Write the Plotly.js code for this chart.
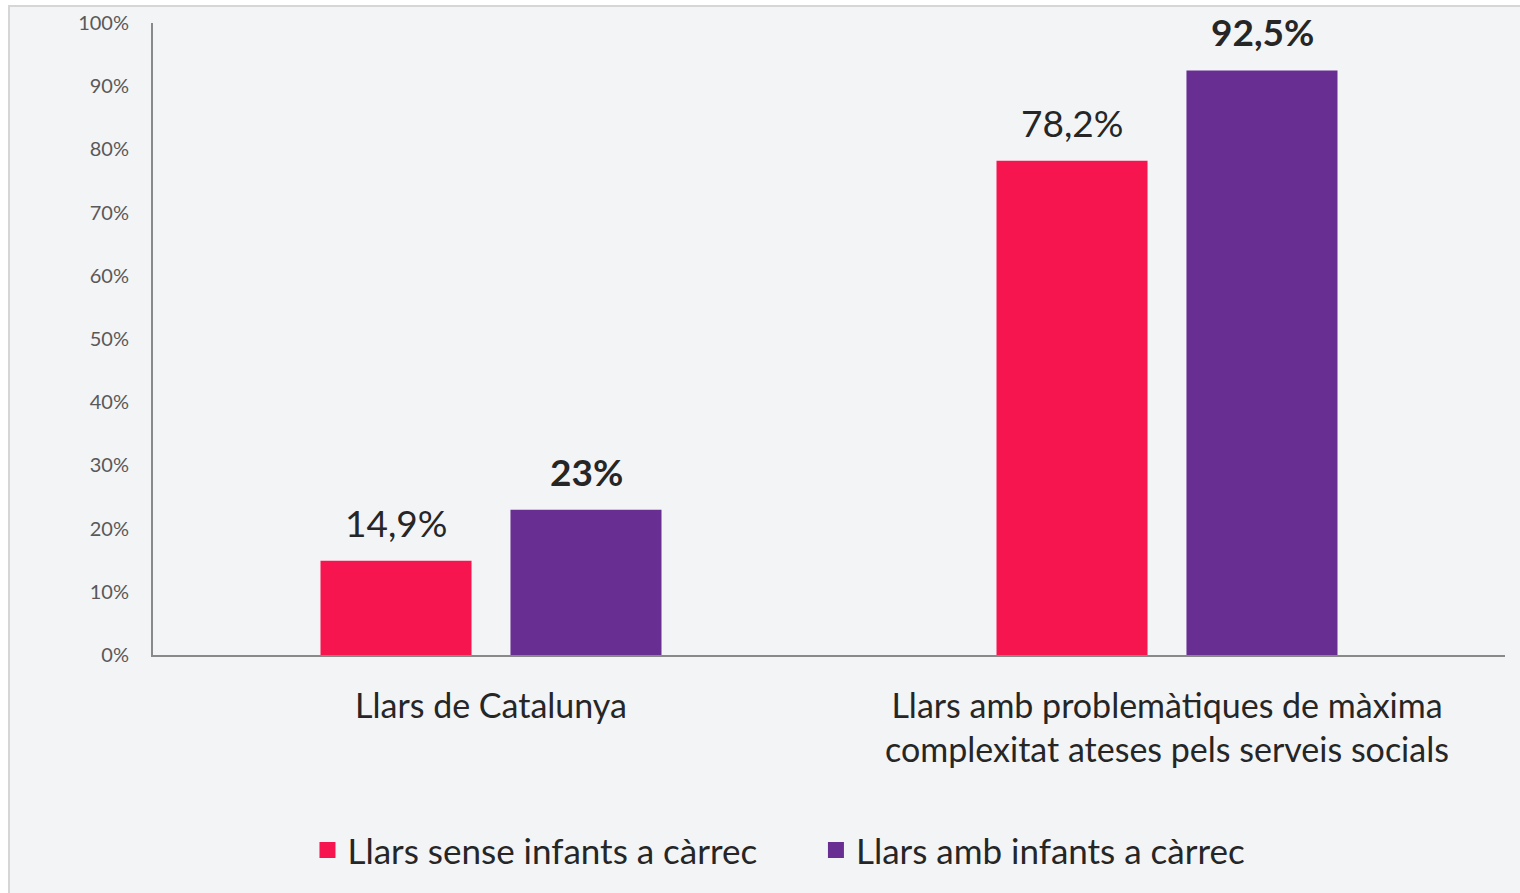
<!DOCTYPE html>
<html>
<head>
<meta charset="utf-8">
<script src="https://cdn.plot.ly/plotly-3.0.1.min.js"></script>
<style>
  body { margin: 0; background: #ffffff; overflow: hidden; }
  #marc {
    position: absolute; left: 8px; top: 5px; width: 1530px; height: 900px;
    background: #f3f4f6; border: 2px solid #d6d6d6;
  }
  #grafic { position: absolute; left: 0; top: 0; width: 1520px; height: 893px; }
</style>
</head>
<body>
<div id="marc"></div>
<div id="grafic"></div>
<script>
// ---------------------------------------------------------------------
// DADES
// ---------------------------------------------------------------------
const categories = [
  "Llars de Catalunya",
  "Llars amb problemàtiques de màxima<br>complexitat ateses pels serveis socials",
];
const series = ["Llars sense infants a càrrec", "Llars amb infants a càrrec"];
const valorsSenseInfants = [0.149, 0.782];
const valorsAmbInfants = [0.23, 0.925];
const etiquetesSenseInfants = ["14,9%", "78,2%"];
const etiquetesAmbInfants = ["23%", "92,5%"];

const COLORS = ["#f7154f", "#692e91"];
const FONT = "Lato, 'Open Sans', sans-serif";

const traces = [
  {
    type: "bar", x: categories, y: valorsSenseInfants, name: series[0],
    marker: { color: COLORS[0] }, showlegend: false, hoverinfo: "skip",
  },
  {
    type: "bar", x: categories, y: valorsAmbInfants, name: series[1],
    marker: { color: COLORS[1] }, showlegend: false, hoverinfo: "skip",
  },
  // entrades de llegenda amb quadrat gran (espai extra darrere el primer nom)
  ...series.map((nom, i) => ({
    type: "scatter", mode: "markers", x: [null], y: [null],
    name: i === 0 ? nom + "\u00a0".repeat(6) : nom,
    marker: { symbol: "square", size: 16, color: COLORS[i] },
  })),
];

// etiquetes de valor damunt de cada barra
const etiquetes = [];
categories.forEach((cat, i) => {
  etiquetes.push({
    x: cat, y: valorsSenseInfants[i], text: etiquetesSenseInfants[i],
    xshift: -95, yshift: 14, yanchor: "bottom", showarrow: false,
    font: { family: FONT, size: 37, color: "#262626" },
  });
  etiquetes.push({
    x: cat, y: valorsAmbInfants[i], text: "<b>" + etiquetesAmbInfants[i] + "</b>",
    xshift: 95, yshift: 14, yanchor: "bottom", showarrow: false,
    font: { family: FONT, size: 37, color: "#262626" },
  });
});

const layout = {
  width: 1520, height: 893,
  margin: { l: 153, r: 15, t: 23, b: 238 },
  paper_bgcolor: "rgba(0,0,0,0)", plot_bgcolor: "rgba(0,0,0,0)",
  font: { family: FONT, color: "#262626" },
  barmode: "group", bargap: 0.438, bargroupgap: 0.205,
  xaxis: {
    type: "category", showline: true, linecolor: "#898989", linewidth: 2,
    ticks: "", ticklabelstandoff: 20,
    tickfont: { family: FONT, size: 34, color: "#262626" },
  },
  yaxis: {
    range: [0, 1], dtick: 0.1, tickformat: ".0%", showgrid: false, zeroline: false,
    showline: true, linecolor: "#898989", linewidth: 2, ticks: "", ticklabelstandoff: 18,
    tickfont: { family: FONT, size: 20, color: "#595959" },
  },
  legend: {
    orientation: "h", x: 0.463, xanchor: "center", y: -0.309, yanchor: "middle",
    font: { family: FONT, size: 35, color: "#262626" },
    itemwidth: 30,
  },
  annotations: etiquetes,
  showlegend: true,
};

Plotly.newPlot("grafic", traces, layout, { staticPlot: true });
</script>
</body>
</html>
